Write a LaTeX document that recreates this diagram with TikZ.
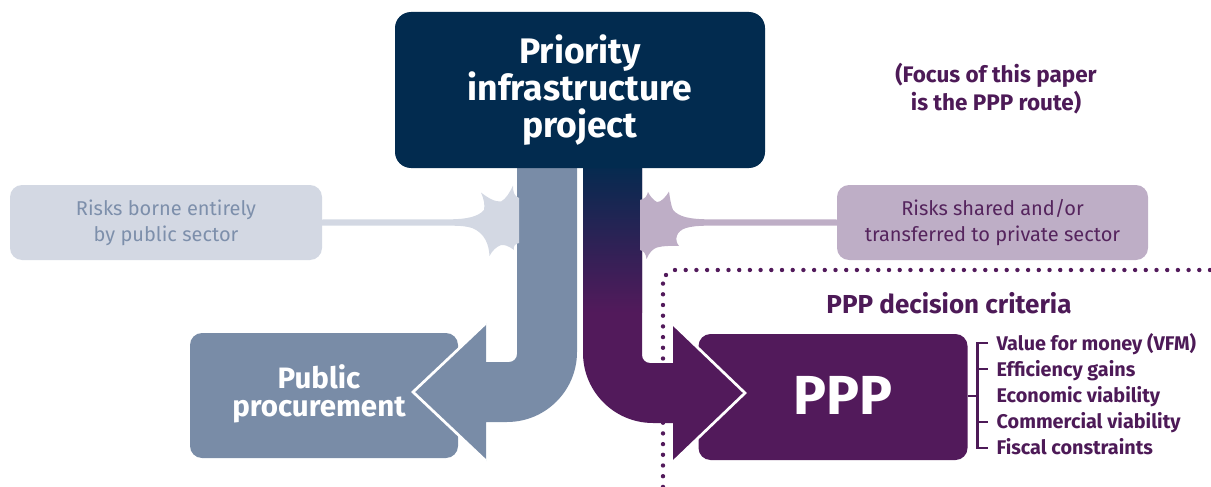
\documentclass[tikz,border=0pt]{standalone}
\usepackage{fontspec}
\setmainfont{Fira Sans}
\definecolor{navy}{HTML}{022B4F}
\definecolor{slate}{HTML}{798CA7}
\definecolor{lgrey}{HTML}{D3D8E3}
\definecolor{lgreytext}{HTML}{7D8FAB}
\definecolor{ppurple}{HTML}{521A5B}
\definecolor{lpurple}{HTML}{BEAEC6}
\definecolor{lpurpletext}{HTML}{55245D}
\definecolor{dpurple}{HTML}{4D1A57}
\begin{document}
\begin{tikzpicture}[x=1pt,y=-1pt,
  box/.style={rounded corners=#1, inner sep=0pt, align=center},
  dotline/.style={draw=ppurple, line width=4.4pt, line cap=round, dash pattern=on 0pt off 10.7pt},
  bracket/.style={draw=dpurple, line width=2.3pt},
  crit/.style={anchor=base west, inner sep=0pt, text=dpurple, font=\bfseries\fontsize{19.8}{24}\selectfont},
  headwhite/.style={draw=white, line width=2.7pt, line join=miter}]
\useasboundingbox (0,0) rectangle (1211,487);

% side boxes
\node[box=12pt, fill=lgrey, minimum width=312pt, minimum height=75pt, text=lgreytext,
  font=\fontsize{20}{26}\selectfont] (lrisk) at (166,222.5) {Risks borne entirely\\by public sector};
\node[box=12pt, fill=lpurple, minimum width=311pt, minimum height=75pt, text=lpurpletext,
  font=\fontsize{20}{26}\selectfont] (rrisk) at (992.5,222.5) {Risks shared and/or\\transferred to private sector};

% bottom boxes
\node[box=12pt, fill=slate, minimum width=268pt, minimum height=125pt] (pp) at (324,395.5) {};
\node[box=12pt, fill=ppurple, minimum width=269pt, minimum height=126pt] (ppp) at (833,397) {};

% dotted boundary
\draw[dotline] (675,270) -- (1216,270);
\draw[dotline] (663,486.9) -- (663,283.6);
\fill[ppurple] (666,275) circle (2.2);

% left curved arrow
\fill[slate] (517,160) -- (517,354) arc[start angle=0,end angle=90,radius=8]
  -- (486,362) -- (486,323) -- (413,392) -- (486,461) -- (486,422) -- (507,422)
  arc[start angle=90,end angle=0,radius=70] -- (577,160) -- cycle;
\draw[headwhite] (486,323) -- (413,392) -- (486,461);

% right curved arrow
\fill[ppurple] (583,160) -- (583,353) arc[start angle=180,end angle=90,radius=70]
  -- (673,423) -- (673,462) -- (745,393) -- (673,324) -- (673,363) -- (650,363)
  arc[start angle=90,end angle=180,radius=8] -- (642,160) -- cycle;
\shade[top color=navy, bottom color=ppurple] (583,160) rectangle (642,312);
\draw[headwhite] (673,324) -- (745,393) -- (673,462);

% left burst
\fill[lgrey] (lrisk.east |- 0,219.5) -- (452,219.3)
  .. controls (466,219) and (478,217) .. (484,210)
  .. controls (485,205) and (484,199) .. (481,192.5)
  .. controls (488,198) and (495,202) .. (501,201.5)
  .. controls (506,199) and (510,192) .. (513,185.5)
  .. controls (513,192) and (514,196) .. (519,198) -- (519,243)
  .. controls (515,244) and (513,246) .. (514,250)
  .. controls (509,246) and (504,244.5) .. (501,245)
  .. controls (496,247) and (492,251) .. (489.5,256)
  .. controls (489,245) and (485,233) .. (472,228)
  .. controls (467,226.4) and (462,225.8) .. (452,225.7) -- (lrisk.east |- 0,225.7) -- cycle;

% right burst
\fill[lpurple] (rrisk.west |- 0,219.5) -- (706,219.3)
  .. controls (690,219) and (679,217) .. (673,210)
  .. controls (671,205) and (670,199) .. (669,191.5)
  .. controls (665,198) and (661,202) .. (657,202)
  .. controls (653,200) and (650,196) .. (648,192)
  .. controls (647,196) and (645,199) .. (640,200) -- (640,250)
  .. controls (644,251) and (646,254) .. (646.5,259)
  .. controls (649,253) and (653,248.5) .. (657,247.5)
  .. controls (664,245.5) and (671,246) .. (679,246)
  .. controls (674,240) and (676,231) .. (686,228)
  .. controls (692,226.3) and (698,225.8) .. (706,225.7) -- (rrisk.west |- 0,225.7) -- cycle;

% top box
\node[box=16pt, fill=navy, minimum width=370pt, minimum height=156pt, text=white,
  font=\bfseries\fontsize{35.5}{37}\selectfont] (top) at (580,90) {Priority\\infrastructure\\project};

% bottom box labels
\node[align=center, text=white, inner sep=0pt, font=\bfseries\fontsize{29.5}{28}\selectfont] (pptext) at (319,394) {Public\\procurement};
\node[text=white, inner sep=0pt, font=\bfseries\fontsize{55}{60}\selectfont] (ppptext) at (843,395) {PPP};

% focus note and criteria heading
\node[align=center, text=dpurple, inner sep=0pt, font=\bfseries\fontsize{22.5}{28}\selectfont] (focus) at (996,89) {(Focus of this paper\\is the PPP route)};
\node[text=dpurple, inner sep=0pt, font=\bfseries\fontsize{26}{30}\selectfont] (crithead) at (949,303) {PPP decision criteria};

% criteria bracket
\coordinate (bj) at (977.5,396);
\draw[bracket] (ppp.east |- bj) -- (bj);
\draw[bracket] (988,343) -- (977.5,343) -- (977.5,448) -- (988,448);
\draw[bracket] (977.5,369) -- (988,369);
\draw[bracket] (977.5,422) -- (988,422);
\node[crit] (c1) at (996.5,350.5) {Value for money (VFM)};
\node[crit] (c2) at (996.5,376.5) {Efficiency gains};
\node[crit] (c3) at (996.5,402.5) {Economic viability};
\node[crit] (c4) at (996.5,428.5) {Commercial viability};
\node[crit] (c5) at (996.5,454.5) {Fiscal constraints};
\end{tikzpicture}
\end{document}
